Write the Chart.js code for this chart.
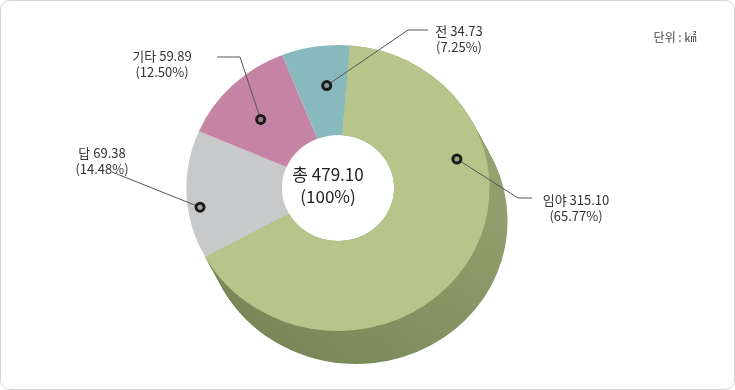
<!DOCTYPE html>
<html>
<head>
<meta charset="utf-8">
<script src="https://cdn.jsdelivr.net/npm/chart.js@4.4.1/dist/chart.umd.min.js"></script>
<style>
  body { margin: 0; background: #fff; }
  #wrap { position: relative; width: 735px; height: 390px; }
  #frame {
    position: absolute; left: 0; top: 0; width: 735px; height: 390px;
    box-sizing: border-box; border: 1px solid #d4d4d4; border-radius: 10px;
    pointer-events: none;
  }
</style>
</head>
<body>
<div id="wrap"><canvas id="landChart"></canvas><div id="frame"></div></div>
<script>
const categories = ["임야", "답", "기타", "전"];
const areaValues = [315.10, 69.38, 59.89, 34.73];
const shareValues = ["65.77", "14.48", "12.50", "7.25"];
const totalArea = "479.10";
const unitLabel = "단위 : ㎢";

const sliceColors = ["#b8c58a", "#c8c9cb", "#c583a6", "#88babd"];
const FONT = "'Noto Sans CJK KR', 'Noto Sans', sans-serif";

// slight perspective: the face is a bit wider than tall, and lifted off a green wall
const squash = 1.06;
const depth = { x: 17, y: 33 };

// where each marker sits on its slice, and where the label goes
const callouts = [
  { frac: 0.30, rad: 0.81, path: [[518, 198], [532, 198]], text: [576, 200] },
  { frac: 0.39, rad: 0.92, path: [[112, 172]], text: [102, 153] },
  { frac: 0.44, rad: 0.70, path: [[240, 57], [217, 57]], text: [162, 56] },
  { frac: 0.60, rad: 0.72, path: [[408, 30], [428, 30]], text: [459, 31] }
];

const tiltPlugin = {
  id: "tilt",
  beforeDatasetsDraw(chart) {
    const arc = chart.getDatasetMeta(0).data[0];
    const { x, y, startAngle, endAngle, outerRadius, innerRadius } =
      arc.getProps(["x", "y", "startAngle", "endAngle", "outerRadius", "innerRadius"], true);
    const ctx = chart.ctx;
    ctx.save();
    ctx.translate(x, y);
    ctx.scale(squash, 1);
    ctx.translate(-x, -y);

    const g = ctx.createLinearGradient(x + outerRadius, y - outerRadius * 0.3,
                                       x - outerRadius * 0.2, y + outerRadius + depth.y);
    g.addColorStop(0, "#95a271");
    g.addColorStop(1, "#7a8759");
    ctx.fillStyle = g;
    for (let i = 0; i <= depth.y; i++) {
      const t = i / depth.y;
      const ox = x + depth.x * t, oy = y + depth.y * t;
      ctx.beginPath();
      ctx.moveTo(ox, oy);
      ctx.arc(ox, oy, outerRadius, startAngle, endAngle);
      ctx.closePath();
      ctx.fill();
    }
    // keep the hole white
    ctx.fillStyle = "#fff";
    ctx.beginPath();
    ctx.arc(x, y, innerRadius, 0, Math.PI * 2);
    ctx.fill();
  },
  afterDatasetsDraw(chart) {
    chart.ctx.restore();
  }
};

const calloutPlugin = {
  id: "callouts",
  afterDraw(chart) {
    const ctx = chart.ctx;
    const arcs = chart.getDatasetMeta(0).data;
    ctx.save();
    arcs.forEach((arc, i) => {
      const c = callouts[i];
      const { x, y, startAngle, endAngle, outerRadius } =
        arc.getProps(["x", "y", "startAngle", "endAngle", "outerRadius"], true);
      const a = startAngle + (endAngle - startAngle) * c.frac;
      const px = x + Math.cos(a) * outerRadius * c.rad * squash;
      const py = y + Math.sin(a) * outerRadius * c.rad;

      ctx.strokeStyle = "#555";
      ctx.lineWidth = 1;
      ctx.beginPath();
      ctx.moveTo(px, py);
      c.path.forEach(p => ctx.lineTo(p[0], p[1]));
      ctx.stroke();

      ctx.fillStyle = "#1b1b1b";
      ctx.beginPath();
      ctx.arc(px, py, 5.5, 0, Math.PI * 2);
      ctx.fill();
      ctx.fillStyle = "rgba(255,255,255,0.35)";
      ctx.beginPath();
      ctx.arc(px, py, 2.5, 0, Math.PI * 2);
      ctx.fill();
      ctx.fillStyle = sliceColors[i];
      ctx.globalAlpha = 0.6;
      ctx.beginPath();
      ctx.arc(px, py, 2.5, 0, Math.PI * 2);
      ctx.fill();
      ctx.globalAlpha = 1;

      ctx.fillStyle = "#333";
      ctx.font = "13px " + FONT;
      ctx.textAlign = "center";
      ctx.textBaseline = "middle";
      ctx.fillText(categories[i] + " " + areaValues[i].toFixed(2), c.text[0], c.text[1]);
      ctx.fillText("(" + shareValues[i] + "%)", c.text[0], c.text[1] + 16);
    });

    const first = arcs[0];
    ctx.fillStyle = "#222";
    ctx.font = "17px " + FONT;
    ctx.textAlign = "center";
    ctx.textBaseline = "middle";
    ctx.fillText("총 " + totalArea, first.x - 10, first.y - 13);
    ctx.fillText("(100%)", first.x - 10, first.y + 9);

    ctx.fillStyle = "#444";
    ctx.font = "12px " + FONT;
    ctx.fillText(unitLabel, 675, 37);
    ctx.restore();
  }
};

new Chart(document.getElementById("landChart").getContext("2d"), {
  type: "doughnut",
  data: {
    labels: categories,
    datasets: [{
      data: areaValues,
      backgroundColor: sliceColors,
      borderWidth: 0,
      hoverOffset: 0,
      clip: false
    }]
  },
  options: {
    responsive: true,
    maintainAspectRatio: false,
    animation: false,
    rotation: 4.5,
    cutout: "37%",
    layout: { padding: { left: 195, right: 254, top: 45, bottom: 59 } },
    plugins: {
      legend: { display: false },
      tooltip: { enabled: false }
    },
    events: []
  },
  plugins: [tiltPlugin, calloutPlugin]
});
</script>
</body>
</html>
